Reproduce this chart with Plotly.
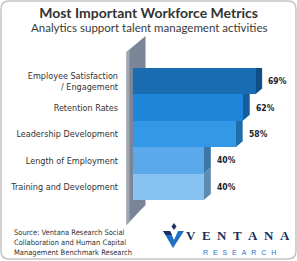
import plotly.graph_objects as go

categories = ["Employee Satisfaction<br>/ Engagement", "Retention Rates", "Leadership Development",
              "Length of Employment", "Training and Development"]
values = [69, 62, 58, 40, 40]
value_labels = ["69%", "62%", "58%", "40%", "40%"]
front_colors = ["#1b6db3", "#1f85d9", "#3398e6", "#5aa9ea", "#87c2f1"]
side_colors = ["#0f4e86", "#155f9f", "#1f6cab", "#3b76a6", "#5d8aae"]
top_color = "#1a5d99"

W, H = 297, 261
L, R, T, B = 133, 0, 68, 61
PW, PH = W - L - R, H - T - B
PX_PER_UNIT = 1.77
XMAX = PW / PX_PER_UNIT
n = len(values)
UNIT_Y = PH / n  # px per category

def px(xp):
    return (xp - L) / PW

def py(yp):
    return (H - B - yp) / PH

fig = go.Figure()
fig.add_trace(go.Bar(
    y=list(range(n)), x=values, orientation="h",
    marker=dict(color=front_colors, line=dict(width=0)),
    hoverinfo="skip",
))

shapes = []
# back wall (left side floor of 3D chart)
shapes.append(dict(type="path", xref="paper", yref="paper", layer="below",
                   path=f"M {px(126.5)},{py(52)} L {px(145.5)},{py(36)} L {px(145.5)},{py(205)} L {px(126.5)},{py(225)} Z",
                   fillcolor="#7a8597", line=dict(width=0)))
shapes.append(dict(type="path", xref="paper", yref="paper", layer="below",
                   path=f"M {px(126.5)},{py(52)} L {px(129.5)},{py(49.5)} L {px(129.5)},{py(222)} L {px(126.5)},{py(225)} Z",
                   fillcolor="#9ea7b4", line=dict(width=0)))

dx = 7 / PX_PER_UNIT
dy = 6 / UNIT_Y
# top face of first bar
shapes.append(dict(type="path", xref="x", yref="y", layer="below",
                   path=f"M 0,-0.5 L {dx * 0.6},{-0.5 - dy} L {values[0] + dx},{-0.5 - dy} L {values[0]},-0.5 Z",
                   fillcolor=top_color, line=dict(width=0)))
for i, v in enumerate(values):
    shapes.append(dict(type="path", xref="x", yref="y", layer="below",
                       path=f"M {v},{i - 0.5} L {v + dx},{i - 0.5 - dy} L {v + dx},{i + 0.5 - dy} L {v},{i + 0.5} Z",
                       fillcolor=side_colors[i], line=dict(width=0)))

# rounded border
x0, x1, y0, y1 = px(1), px(296), py(259), py(1)
rx, ry = 8 / PW, 8 / PH
shapes.append(dict(type="path", xref="paper", yref="paper", layer="above",
                   path=(f"M {x0 + rx},{y1} L {x1 - rx},{y1} Q {x1},{y1} {x1},{y1 - ry} "
                         f"L {x1},{y0 + ry} Q {x1},{y0} {x1 - rx},{y0} L {x0 + rx},{y0} "
                         f"Q {x0},{y0} {x0},{y0 + ry} L {x0},{y1 - ry} Q {x0},{y1} {x0 + rx},{y1} Z"),
                   fillcolor="rgba(0,0,0,0)", line=dict(color="#c4c4c4", width=1.5)))

# Ventana logo mark
shapes.append(dict(type="path", xref="paper", yref="paper", layer="above",
                   path=(f"M {px(163)},{py(231)} L {px(170)},{py(231)} L {px(174)},{py(240)} "
                         f"L {px(178)},{py(231)} L {px(184)},{py(231)} L {px(173)},{py(248)} Z"),
                   fillcolor="#1f6fc4", line=dict(width=0)))
shapes.append(dict(type="path", xref="paper", yref="paper", layer="above",
                   path=(f"M {px(163)},{py(231)} L {px(170)},{py(231)} L {px(172)},{py(235)} L {px(166)},{py(235)} Z"),
                   fillcolor="#1c2f5e", line=dict(width=0)))
shapes.append(dict(type="path", xref="paper", yref="paper", layer="above",
                   path=(f"M {px(174)},{py(223)} L {px(176.5)},{py(226.5)} L {px(174)},{py(230)} L {px(171.5)},{py(226.5)} Z"),
                   fillcolor="#1c2f5e", line=dict(width=0)))

annotations = []
for i, v in enumerate(values):
    annotations.append(dict(x=v, y=i, xref="x", yref="y", text=value_labels[i],
                            showarrow=False, xanchor="left", yanchor="middle", xshift=11,
                            font=dict(family="DejaVu Sans Condensed, Liberation Sans", size=8.5, color="#222222", weight="bold")))

annotations.append(dict(x=px(148.5), y=py(27), xref="paper", yref="paper",
                        text="Analytics support talent management activities", showarrow=False,
                        xanchor="center", yanchor="middle",
                        font=dict(family="Lato, Open Sans", size=11.5, color="#3a3a3a")))
annotations.append(dict(x=px(12), y=py(242), xref="paper", yref="paper",
                        text="Source: Ventana Research Social<br>Collaboration and Human Capital<br>Management Benchmark Research",
                        showarrow=False, xanchor="left", yanchor="middle", align="left",
                        font=dict(family="DejaVu Sans Condensed, Liberation Sans Narrow, Liberation Sans", size=7.5, color="#333333")))
annotations.append(dict(x=px(237.5), y=py(235), xref="paper", yref="paper",
                        text="V\u2002E\u2002N\u2002T\u2002A\u2002N\u2002A", showarrow=False,
                        xanchor="center", yanchor="middle",
                        font=dict(family="Liberation Serif", size=13, color="#1c2f5e", weight="bold")))
annotations.append(dict(x=px(239), y=py(253), xref="paper", yref="paper",
                        text="R\u2002\u2009E\u2002\u2009S\u2002\u2009E\u2002\u2009A\u2002\u2009R\u2002\u2009C\u2002\u2009H",
                        showarrow=False, xanchor="center", yanchor="middle",
                        font=dict(family="Liberation Sans", size=7, color="#2a70c2")))

fig.update_layout(
    width=W, height=H,
    margin=dict(l=L, r=R, t=T, b=B, pad=0),
    paper_bgcolor="white", plot_bgcolor="rgba(0,0,0,0)",
    showlegend=False, bargap=0,
    title=dict(text="<b>Most Important Workforce Metrics</b>", x=0.5, xref="container",
               y=1 - 13 / H, yref="container", xanchor="center", yanchor="middle",
               font=dict(family="Lato, Open Sans", size=14, color="#333333")),
    xaxis=dict(range=[0, XMAX], visible=False, fixedrange=True),
    yaxis=dict(range=[n - 0.5, -0.5], tickvals=list(range(n)), ticktext=categories,
               showgrid=False, zeroline=False, showline=False, ticks="",
               ticklabelstandoff=14,
               tickfont=dict(family="DejaVu Sans Condensed, Liberation Sans Narrow, Liberation Sans", size=9, color="#333333")),
    shapes=shapes, annotations=annotations,
)

fig.write_html("out.html")
